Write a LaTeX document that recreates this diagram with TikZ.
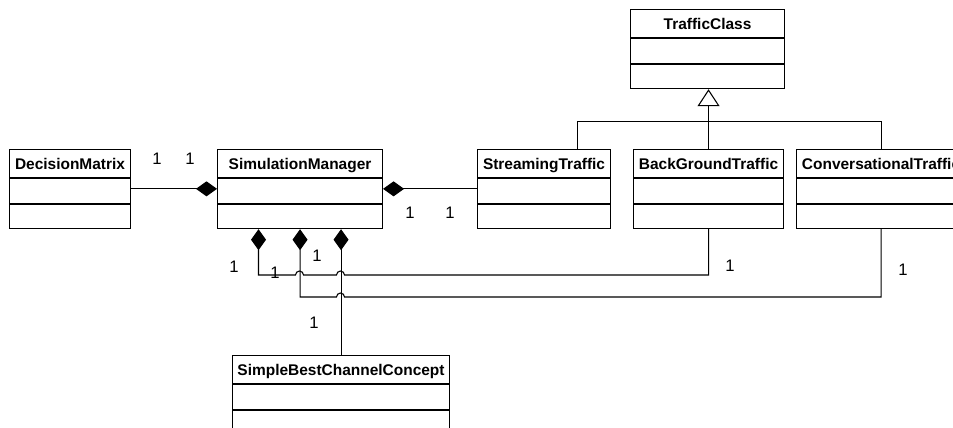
\documentclass[tikz,border=0pt]{standalone}
\usepackage{fontspec}
\setmainfont{Liberation Sans}
\usetikzlibrary{arrows.meta,calc}

\begin{document}
\begin{tikzpicture}[x=0.75pt,y=-0.75pt,line width=0.8pt,
  part/.style={draw,anchor=north west,inner sep=0pt,minimum width=#1*0.75pt},
  head/.style={part=#1,minimum height=28*0.75pt,text height=8.5pt,text depth=0pt,
    font=\bfseries\fontsize{11.6}{14}\selectfont},
  attr/.style={part=#1,minimum height=24.5*0.75pt},
  mult/.style={inner sep=0pt,font=\fontsize{12.5}{15}\selectfont},
  comp/.style={-{Diamond[length=15.75pt,width=11.25pt]}},
  inherit/.style={-{Triangle[length=12.75pt,width=16.5pt,fill=white]}}]

\useasboundingbox (0,0) rectangle (953,428);
\clip (0,0) rectangle (953,428);

% classes: header, attributes, operations
\node[head=121] (dm) at (9,149) {DecisionMatrix};
\node[attr=121] (dm-a) at (dm.south west) {};
\node[attr=121] (dm-o) at (dm-a.south west) {};

\node[head=165] (sm) at (217,149) {SimulationManager};
\node[attr=165] (sm-a) at (sm.south west) {};
\node[attr=165] (sm-o) at (sm-a.south west) {};

\node[head=133] (st) at (477,149) {StreamingTraffic};
\node[attr=133] (st-a) at (st.south west) {};
\node[attr=133] (st-o) at (st-a.south west) {};

\node[head=150] (bgt) at (633,149) {BackGroundTraffic};
\node[attr=150] (bgt-a) at (bgt.south west) {};
\node[attr=150] (bgt-o) at (bgt-a.south west) {};

\node[head=169] (ct) at (796,149) {ConversationalTraffic};
\node[attr=169] (ct-a) at (ct.south west) {};
\node[attr=169] (ct-o) at (ct-a.south west) {};

\node[head=154] (tc) at (630,9) {TrafficClass};
\node[attr=154] (tc-a) at (tc.south west) {};
\node[attr=154] (tc-o) at (tc-a.south west) {};

\node[head=217] (sbcc) at (232,355) {SimpleBestChannelConcept};
\node[attr=217] (sbcc-a) at (sbcc.south west) {};
\node[attr=217] (sbcc-o) at (sbcc-a.south west) {};

% generalization tree
\coordinate (bus) at (707.5,121.7);
\coordinate (st-hook) at ($(st.north west)!0.75!(st.north east)$);
\draw[inherit] (bgt.north) -- (bgt.north |- tc-o.south);
\draw (st-hook) |- (bus) -| (ct.north);

% compositions
\draw[comp] ($(dm-a.east)+(0,-2)$) -- ($(sm-a.west)+(0,-2)$);
\draw[comp] ($(st-a.west)+(0,-2)$) -- ($(sm-a.east)+(0,-2)$);
\draw[comp] (sbcc.north) -- (sbcc.north |- sm-o.south);
\draw[comp] (bgt-o.south) |- (344.5,275)
  arc[start angle=0,end angle=180,radius=3pt] -- (303.5,275)
  arc[start angle=0,end angle=180,radius=3pt]
  -| ($(sm-o.south west)!0.25!(sm-o.south east)$);
\draw[comp] (ct-o.south) |- (344.5,297)
  arc[start angle=0,end angle=180,radius=3pt] -| (sm-o.south);

% multiplicities
\node[mult] (m1) at (157,159) {1};
\node[mult] (m2) at (190,159) {1};
\node[mult] (m3) at (410,213) {1};
\node[mult] (m4) at (450,213) {1};
\node[mult] (m5) at (234,267) {1};
\node[mult] (m6) at (275,273) {1};
\node[mult] (m7) at (317,256) {1};
\node[mult] (m8) at (314,323) {1};
\node[mult] (m9) at (730,266) {1};
\node[mult] (m10) at (903,270) {1};
\end{tikzpicture}
\end{document}
